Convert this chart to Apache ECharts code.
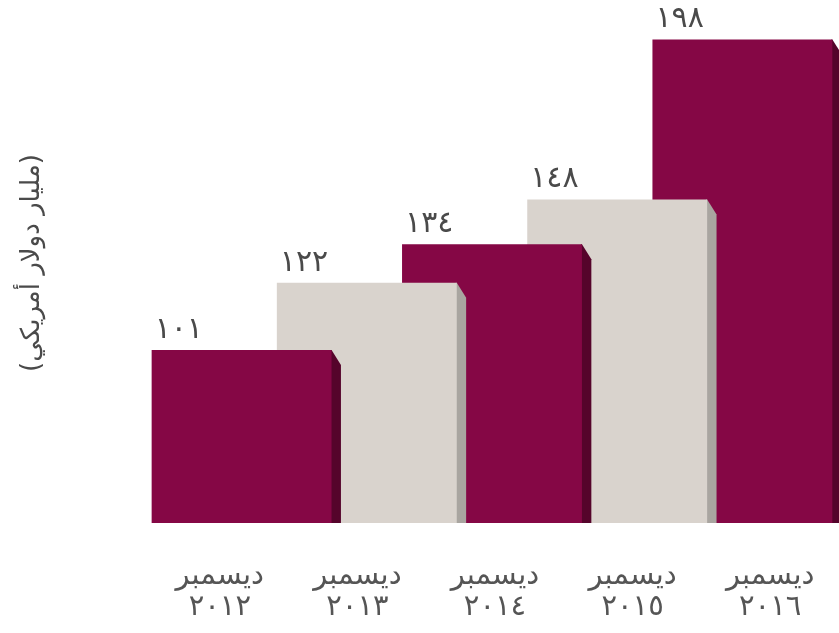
<!DOCTYPE html>
<html>
<head>
<meta charset="utf-8">
<script src="https://cdn.jsdelivr.net/npm/echarts@6/dist/echarts.min.js"></script>
<style>
  html, body { margin: 0; padding: 0; background: #fff; }
  #chart { width: 839px; height: 633px; }
</style>
</head>
<body>
<div id="chart"></div>
<script>
// data
const years = ["2012", "2013", "2014", "2015", "2016"];
const monthName = "ديسمبر";
const values = [101, 122, 134, 148, 198];
const yAxisTitle = "(مليار دولار أمريكي)";

const yMin = 47;
const yMax = 200;
const fontAr = "DejaVu Sans";

// maroon / beige alternate
const faceColors = ["#850745", "#d9d3cd"];
const sideColors = ["#55042b", "#a9a5a0"];

function toArabicDigits(s) {
  return String(s).replace(/[0-9]/g, function (d) {
    return "٠١٢٣٤٥٦٧٨٩".charAt(+d);
  });
}

function renderBar(params, api) {
  let i = params.dataIndex;
  let top = api.coord([api.value(0), api.value(1)]);
  let base = api.coord([api.value(0), yMin]);
  let band = api.size([1, 0])[0];
  let w = band * 1.437;
  let side = band * 0.075;
  let x0 = top[0] - w / 2;
  let x1 = top[0] + w / 2;
  let k = i % 2;
  let z = 50 - i * 5;
  return {
    type: "group",
    children: [
      {
        type: "polygon",
        z2: z,
        shape: {
          points: [
            [x1 - 1, top[1]],
            [x1, top[1]],
            [x1 + side, top[1] + 15],
            [x1 + side, base[1]],
            [x1 - 1, base[1]]
          ]
        },
        style: { fill: sideColors[k] }
      },
      {
        type: "rect",
        z2: z + 1,
        shape: { x: x0, y: top[1], width: w, height: base[1] - top[1] },
        style: { fill: faceColors[k] }
      },
      {
        type: "text",
        z2: 100,
        style: {
          text: toArabicDigits(api.value(1)),
          x: x0 + 3,
          y: top[1] - 5,
          align: "left",
          verticalAlign: "bottom",
          fill: "#4a4a4a",
          fontFamily: fontAr,
          fontSize: 30
        }
      }
    ]
  };
}

let chart = echarts.init(document.getElementById("chart"));
chart.setOption({
  animation: false,
  grid: [
    { left: 179, width: 626, top: 33, bottom: 110 },
    { left: 151, width: 690, top: 33, bottom: 110 }
  ],
  xAxis: [
    {
      type: "category",
      gridIndex: 0,
      data: years,
      show: false
    },
    {
      type: "category",
      gridIndex: 1,
      data: years,
      axisLine: { show: false },
      axisTick: { show: false },
      axisLabel: {
        margin: 38,
        color: "#555",
        fontFamily: fontAr,
        fontSize: 29,
        lineHeight: 31,
        formatter: function (v) {
          return monthName + "\n" + toArabicDigits(v);
        }
      }
    }
  ],
  yAxis: [
    {
      type: "value",
      gridIndex: 0,
      min: yMin,
      max: yMax,
      axisLine: { show: false },
      axisTick: { show: false },
      axisLabel: { show: false },
      splitLine: { show: false },
      name: yAxisTitle,
      nameLocation: "middle",
      nameRotate: 90,
      nameGap: 134,
      nameTextStyle: {
        color: "#4a4a4a",
        fontFamily: fontAr,
        fontSize: 26,
        padding: [0, 0, 0, 30]
      }
    },
    {
      type: "value",
      gridIndex: 1,
      min: yMin,
      max: yMax,
      show: false
    }
  ],
  series: [
    {
      type: "custom",
      xAxisIndex: 0,
      yAxisIndex: 0,
      renderItem: renderBar,
      encode: { x: 0, y: 1 },
      data: years.map(function (y, i) { return [i, values[i]]; })
    }
  ]
});
</script>
</body>
</html>
